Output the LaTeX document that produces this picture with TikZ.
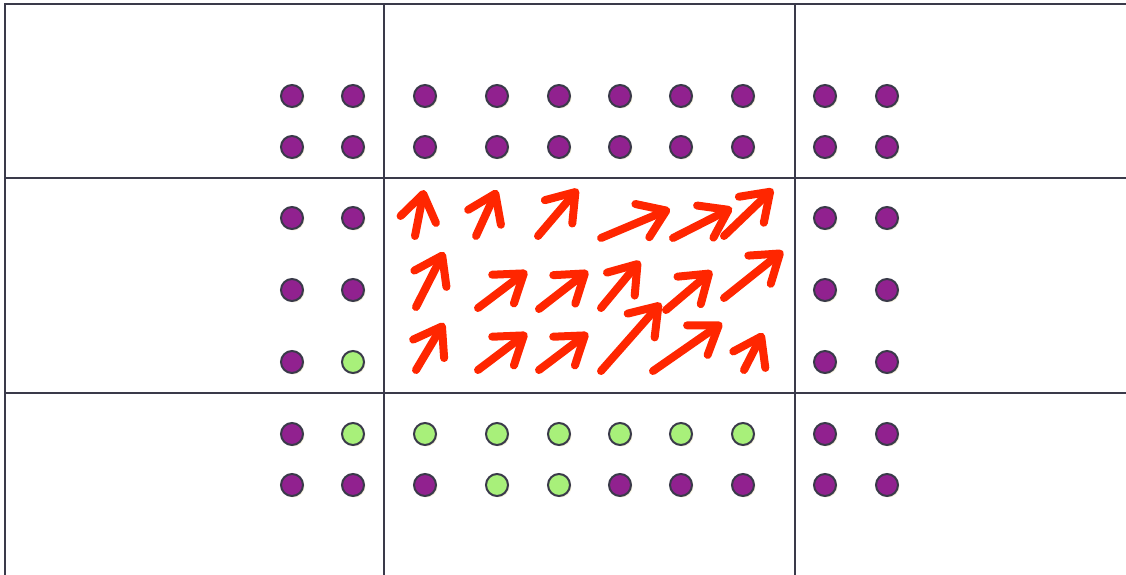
\documentclass[tikz,border=0pt]{standalone}
\usepackage{tikz}
\usetikzlibrary{arrows.meta, shadows}

\definecolor{dotpurple}{RGB}{145,33,143}
\definecolor{dotgreen}{RGB}{168,240,122}
\definecolor{rim}{RGB}{58,58,74}
\definecolor{flow}{RGB}{255,38,0}
\definecolor{cream}{RGB}{246,243,222}

\tikzset{
  pdot/.style={circle,draw=rim,line width=2pt,fill=dotpurple,minimum size=22pt,inner sep=0pt,
    drop shadow={shadow xshift=1.5pt,shadow yshift=-1.5pt,fill=cream,opacity=1}},
  gdot/.style={pdot,fill=dotgreen},
  gridline/.style={draw=rim,line width=1.8pt},
  vec/.style={draw=flow,line width=8pt,line cap=round,
    -{Straight Barb[length=26pt,width=36pt,round]}}
}

\begin{document}
\begin{tikzpicture}[x=1pt,y=-1pt]

\useasboundingbox (0,0) rectangle (1126,575);

% cell borders
\coordinate (tl) at (5,4);
\coordinate (tr) at (1126,4);
\coordinate (bl) at (5,575);
\draw[gridline] (bl) -- (tl) -- (tr);
\draw[gridline] (5,178) -- (1126,178);
\draw[gridline] (5,393) -- (1126,393);
\draw[gridline] (384,4) -- (384,575);
\draw[gridline] (795,4) -- (795,575);

% top rows
\foreach \y in {96,147}
  \foreach \x in {292,353,425,497,559,620,681,743,825,887}
    \node[pdot] (d\x-\y) at (\x,\y) {};

% side columns of the middle rows
\foreach \y in {218,290,362}
  \foreach \x in {292,825,887}
    \node[pdot] (d\x-\y) at (\x,\y) {};
\node[pdot] (d353-218) at (353,218) {};
\node[pdot] (d353-290) at (353,290) {};
\node[gdot] (d353-362) at (353,362) {};

% bottom rows
\node[pdot] (d292-434) at (292,434) {};
\foreach \x in {353,425,497,559,620,681,743}
  \node[gdot] (d\x-434) at (\x,434) {};
\node[pdot] (d825-434) at (825,434) {};
\node[pdot] (d887-434) at (887,434) {};

\foreach \x in {292,353,425,620,681,743,825,887}
  \node[pdot] (d\x-485) at (\x,485) {};
\node[gdot] (d497-485) at (497,485) {};
\node[gdot] (d559-485) at (559,485) {};

% flow vectors
\draw[vec] (415,236) -- (424,190);
\draw[vec] (476,236) -- (497,190);
\draw[vec] (538,236) -- (578,189);
\draw[vec] (601,238) -- (670,209);
\draw[vec] (673,238) -- (732,208);
\draw[vec] (724,236) -- (773,189);

\draw[vec] (416,307) -- (444,252);
\draw[vec] (478,308) -- (527,271);
\draw[vec] (539,309) -- (588,271);
\draw[vec] (601,308) -- (640,261);
\draw[vec] (666,310) -- (712,271);
\draw[vec] (724,298) -- (783,251);

\draw[vec] (416,370) -- (444,323);
\draw[vec] (478,370) -- (527,333);
\draw[vec] (539,370) -- (588,333);
\draw[vec] (601,371) -- (661,303);
\draw[vec] (653,371) -- (722,323);
\draw[vec] (744,370) -- (763,333);

\end{tikzpicture}
\end{document}
